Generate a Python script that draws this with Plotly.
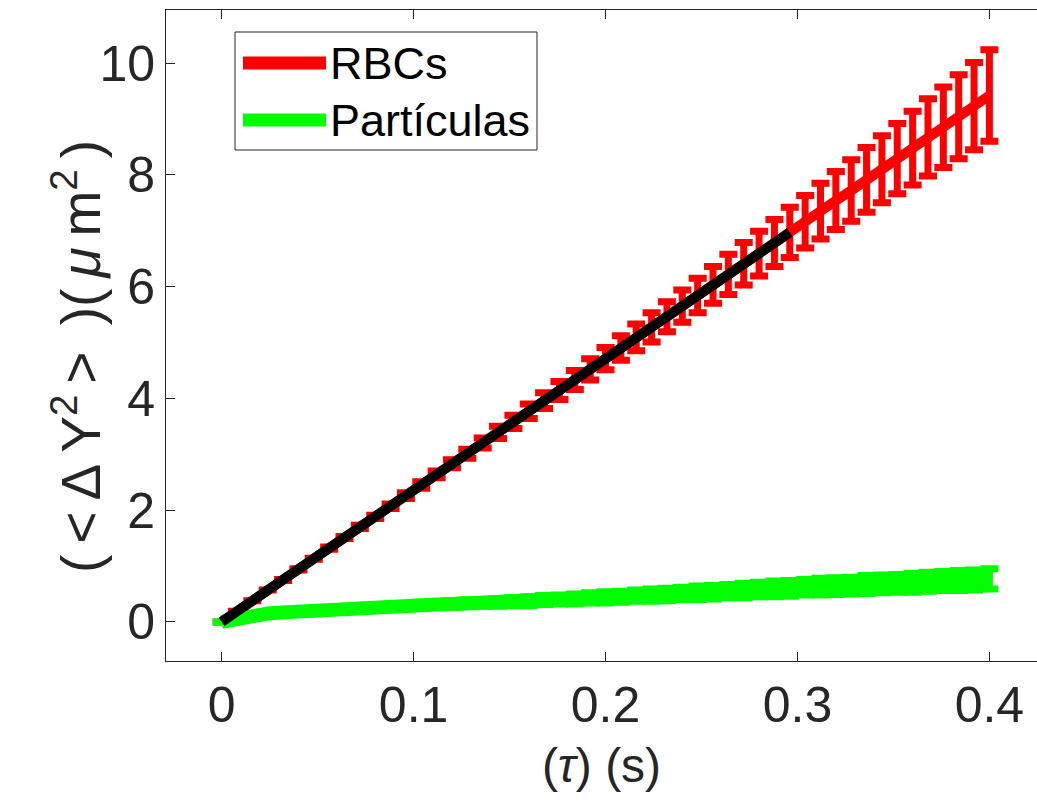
import numpy as np
import plotly.graph_objects as go

# Lag times (s), sampled every 8 ms
tau = [0.000, 0.008, 0.016, 0.024, 0.032, 0.040, 0.048, 0.056, 0.064, 0.072,
       0.080, 0.088, 0.096, 0.104, 0.112, 0.120, 0.128, 0.136, 0.144, 0.152,
       0.160, 0.168, 0.176, 0.184, 0.192, 0.200, 0.208, 0.216, 0.224, 0.232,
       0.240, 0.248, 0.256, 0.264, 0.272, 0.280, 0.288, 0.296, 0.304, 0.312,
       0.320, 0.328, 0.336, 0.344, 0.352, 0.360, 0.368, 0.376, 0.384, 0.392,
       0.400]

# Mean squared displacement along Y for red blood cells (um^2) and its error
msd_rbc = [0.00, 0.19, 0.38, 0.57, 0.75, 0.94, 1.13, 1.32, 1.51, 1.70,
           1.88, 2.07, 2.26, 2.45, 2.64, 2.83, 3.01, 3.20, 3.39, 3.58,
           3.77, 3.96, 4.14, 4.33, 4.52, 4.71, 4.90, 5.09, 5.27, 5.46,
           5.65, 5.84, 6.03, 6.22, 6.41, 6.59, 6.78, 6.97, 7.16, 7.35,
           7.54, 7.72, 7.91, 8.10, 8.29, 8.48, 8.67, 8.85, 9.04, 9.23,
           9.42]
err_rbc = [0.00, 0.00, 0.00, 0.00, 0.01, 0.01, 0.01, 0.02, 0.02, 0.03,
           0.03, 0.04, 0.05, 0.06, 0.06, 0.07, 0.08, 0.09, 0.11, 0.12,
           0.13, 0.14, 0.16, 0.17, 0.19, 0.20, 0.22, 0.24, 0.26, 0.27,
           0.29, 0.31, 0.33, 0.36, 0.38, 0.40, 0.42, 0.45, 0.47, 0.50,
           0.52, 0.55, 0.58, 0.60, 0.63, 0.66, 0.69, 0.72, 0.75, 0.78,
           0.82]

# Same quantity for the tracer particles
msd_part = [0.00, 0.07, 0.12, 0.15, 0.17, 0.19, 0.20, 0.22, 0.23, 0.24,
            0.26, 0.27, 0.28, 0.29, 0.31, 0.32, 0.33, 0.34, 0.35, 0.36,
            0.37, 0.39, 0.40, 0.41, 0.43, 0.44, 0.45, 0.47, 0.48, 0.49,
            0.51, 0.52, 0.53, 0.55, 0.56, 0.58, 0.59, 0.60, 0.62, 0.63,
            0.64, 0.65, 0.67, 0.68, 0.69, 0.70, 0.72, 0.73, 0.74, 0.75,
            0.77]
err_part = [0.00, 0.01, 0.01, 0.02, 0.02, 0.02, 0.03, 0.03, 0.03, 0.04,
            0.04, 0.04, 0.05, 0.05, 0.05, 0.06, 0.06, 0.06, 0.07, 0.07,
            0.08, 0.08, 0.08, 0.09, 0.09, 0.10, 0.10, 0.10, 0.11, 0.11,
            0.11, 0.12, 0.12, 0.12, 0.13, 0.13, 0.14, 0.14, 0.14, 0.15,
            0.15, 0.15, 0.16, 0.16, 0.16, 0.17, 0.17, 0.17, 0.18, 0.18,
            0.18]

# Linear fit of the RBC curve over the first lag times
fit_max_tau = 0.296
series_names = ["RBCs", "Partículas"]
x_ticks = [0, 0.1, 0.2, 0.3, 0.4]
x_tick_text = ["0", "0.1", "0.2", "0.3", "0.4"]
y_ticks = [0, 2, 4, 6, 8, 10]
y_tick_text = ["0", "2", "4", "6", "8", "10"]

RED = "#ff0000"
GREEN = "#00ff00"
AXIS = "#262626"
FONT = "Liberation Sans, Arial, sans-serif"
TS = "\u2009"  # thin space, mimics the looser TeX spacing of the y label

# Figure geometry (px)
W, H = 1037, 810
ML, MR, MT, MB = 166, 0, 10, 149
PW, PH = W - ML - MR, H - MT - MB


def px_x(px):
    return (px - ML) / PW


def px_y(py):
    return (H - MB - py) / PH


tau_a = np.array(tau)
rbc_a = np.array(msd_rbc)
mask = tau_a <= fit_max_tau + 1e-9
coef = np.polyfit(tau_a[mask], rbc_a[mask], 1)
fit_x = tau_a[mask][[0, -1]]
fit_y = np.polyval(coef, fit_x)

fig = go.Figure()

fig.add_trace(go.Scatter(
    x=tau, y=msd_rbc, mode="lines", name=series_names[0],
    line=dict(color=RED, width=10),
    error_y=dict(type="data", array=err_rbc, visible=True, color=RED,
                 thickness=7, width=9),
))
fig.add_trace(go.Scatter(
    x=tau, y=msd_part, mode="lines", name=series_names[1],
    line=dict(color=GREEN, width=14),
    error_y=dict(type="data", array=err_part, visible=True, color=GREEN,
                 thickness=7, width=9),
))
fig.add_trace(go.Scatter(
    x=fit_x, y=fit_y, mode="lines", name="ajuste",
    line=dict(color="black", width=10),
))

# Boxed legend in the upper-left corner
legend_box = (235, 32, 537, 150)
legend_rows = [(series_names[0], RED, 63), (series_names[1], GREEN, 120)]
shapes = [dict(
    type="rect", xref="paper", yref="paper",
    x0=px_x(legend_box[0]), x1=px_x(legend_box[2]),
    y0=px_y(legend_box[3]), y1=px_y(legend_box[1]),
    line=dict(color=AXIS, width=1), fillcolor="white", layer="above",
)]
annotations = []
for name, col, row_y in legend_rows:
    shapes.append(dict(
        type="line", xref="paper", yref="paper",
        x0=px_x(243), x1=px_x(326), y0=px_y(row_y), y1=px_y(row_y),
        line=dict(color=col, width=13), layer="above",
    ))
    annotations.append(dict(
        text=name, showarrow=False, xref="paper", yref="paper",
        x=px_x(328), y=px_y(row_y), xanchor="left", yanchor="middle",
        font=dict(family=FONT, size=45, color="black"),
    ))

y_label = (f"({TS}<{TS}Δ{TS}Y<sup>2</sup>{TS}>{TS} )({TS}"
           f"<i>μ</i>{TS}m<sup>2</sup>{TS})")
annotations.append(dict(
    text=y_label, textangle=-90, showarrow=False,
    xref="paper", yref="paper", x=px_x(77), y=px_y(357),
    xanchor="center", yanchor="middle",
    font=dict(family=FONT, size=55, color="#262626"),
))

fig.update_layout(
    width=W, height=H,
    margin=dict(l=ML, r=MR, t=MT, b=MB),
    paper_bgcolor="white", plot_bgcolor="white",
    font=dict(family=FONT, size=50, color="#262626"),
    showlegend=False,
    xaxis=dict(
        range=[-0.029, 0.4248], tickvals=x_ticks, ticktext=x_tick_text,
        ticks="inside", ticklen=9, tickcolor=AXIS, tickwidth=1,
        showline=True, linecolor=AXIS, linewidth=1, mirror="ticks",
        showgrid=False, zeroline=False,
        tickfont=dict(size=50, color="#262626"),
        title=dict(text="(<i>τ</i>) (s)", font=dict(size=48, color="#262626"),
                   standoff=16),
    ),
    yaxis=dict(
        range=[-0.7, 10.95], tickvals=y_ticks, ticktext=y_tick_text,
        ticks="inside", ticklen=9, tickcolor=AXIS, tickwidth=1,
        showline=True, linecolor=AXIS, linewidth=1, mirror=False,
        showgrid=False, zeroline=False,
        tickfont=dict(size=50, color="#262626"),
    ),
    shapes=shapes,
    annotations=annotations,
)

fig.write_html("out.html")
